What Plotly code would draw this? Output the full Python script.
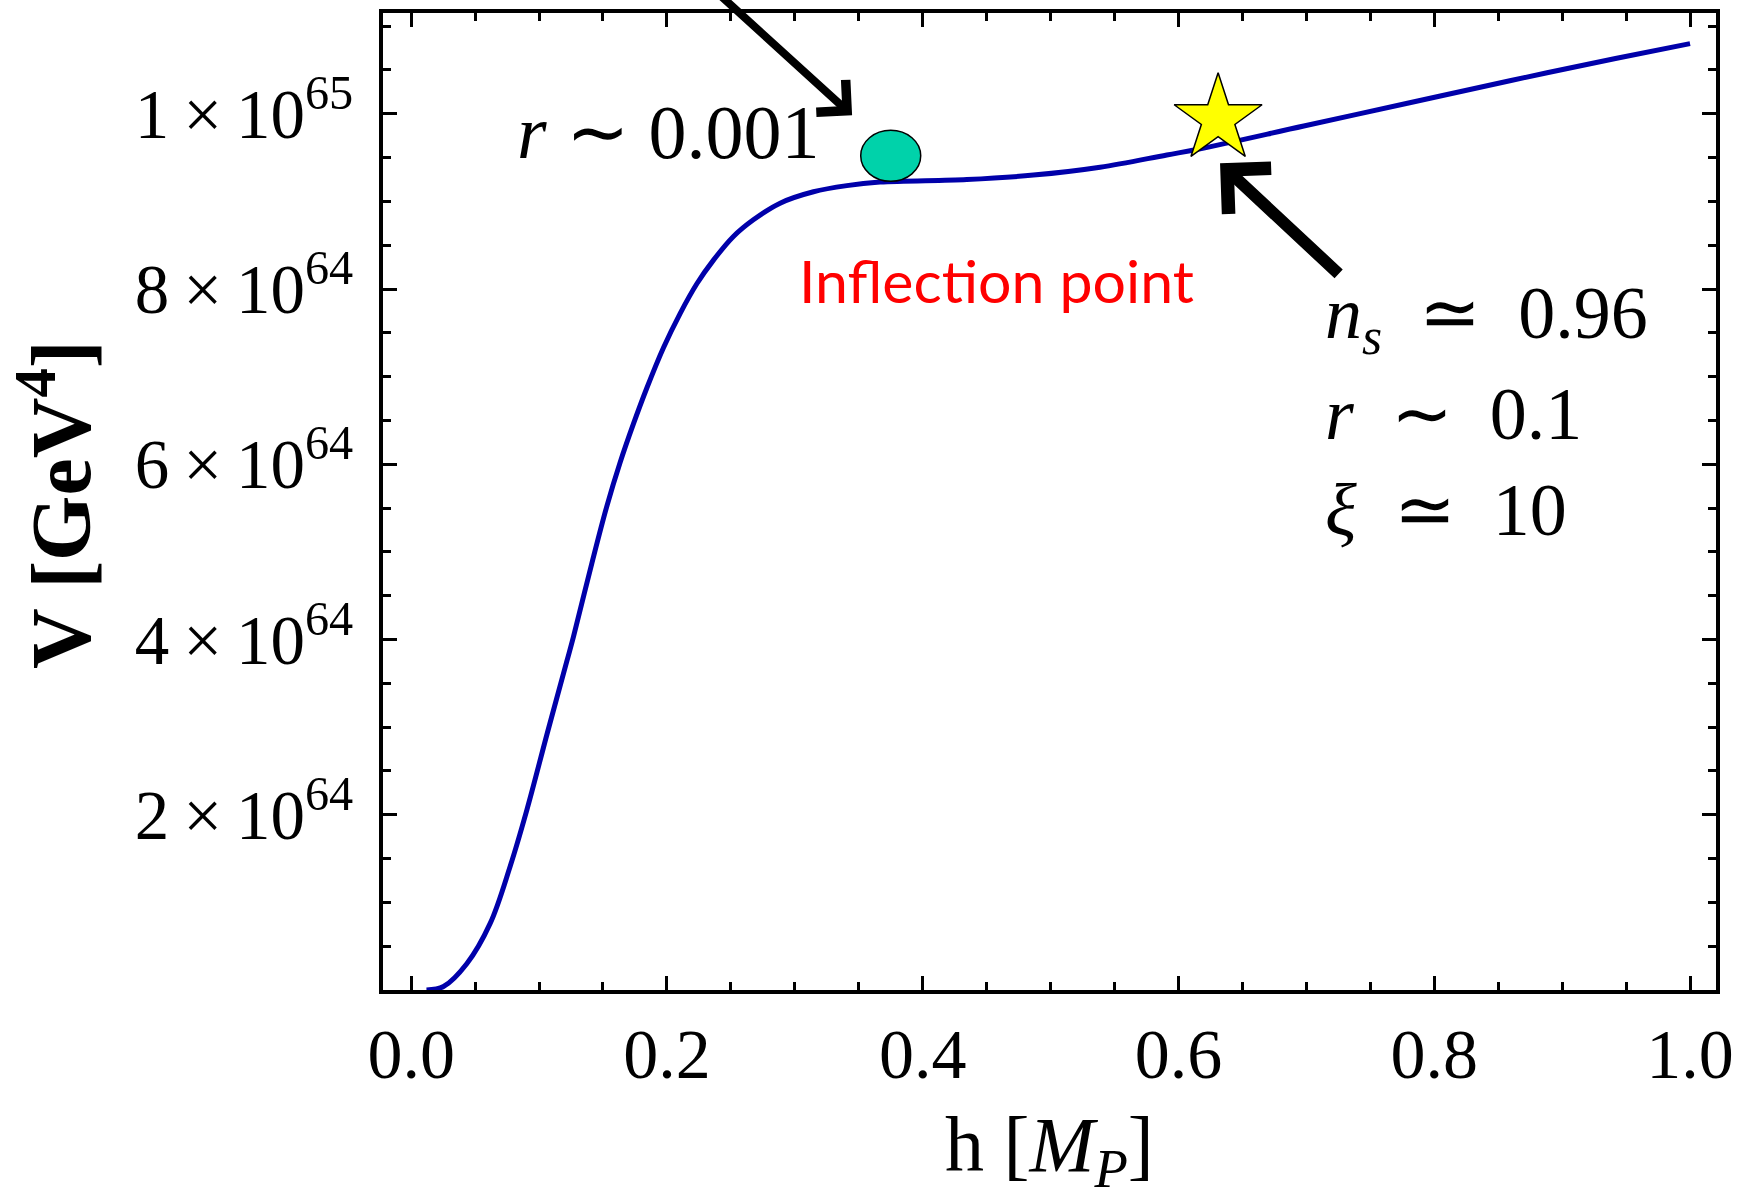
import numpy as np
import plotly.graph_objects as go

# ---- data (h in M_P, V in units of 1e64 GeV^4) ----
h_vals = [0.012, 0.0253, 0.0435, 0.0618, 0.0774, 0.0904, 0.1068, 0.1217, 0.1269,
          0.1413, 0.1530, 0.1634, 0.1738, 0.1843, 0.1973, 0.2103, 0.2234, 0.2364,
          0.2520, 0.2676, 0.2885, 0.3146, 0.3407, 0.3667, 0.4345, 0.4866, 0.5387,
          0.5909, 0.617, 0.698, 0.779, 0.860, 0.9417, 1.0]
V_vals = [0.0, 0.04, 0.30, 0.76, 1.41, 2.05, 2.95, 3.75, 4.03,
          4.87, 5.52, 6.02, 6.46, 6.87, 7.33, 7.72, 8.06, 8.33,
          8.60, 8.79, 8.98, 9.11, 9.18, 9.22, 9.25, 9.30, 9.39,
          9.53, 9.60, 9.86, 10.12, 10.38, 10.63, 10.80]

circle_pt = (0.375, 9.52)      # r ~ 0.001 marker
star_pt = (0.631, 9.94)        # n_s ~ 0.96 marker

y_tickvals = [2, 4, 6, 8, 10]
y_ticktext = ["2\u2009×\u200910<sup>64</sup>", "4\u2009×\u200910<sup>64</sup>",
              "6\u2009×\u200910<sup>64</sup>", "8\u2009×\u200910<sup>64</sup>",
              "1\u2009×\u200910<sup>65</sup>"]

x_title = "h [<i>M</i><sub><i>P</i></sub>]"
y_title = "<b>V [GeV<sup>4</sup>]</b>"

SCALE = 1e64
V = np.array(V_vals) * SCALE

serif = "Liberation Serif, Times New Roman, serif"

fig = go.Figure()
fig.add_trace(go.Scatter(x=h_vals, y=V, mode="lines",
                         line=dict(color="#0000AA", width=5, shape="spline", smoothing=1.0),
                         hoverinfo="skip", showlegend=False))
fig.add_trace(go.Scatter(x=[star_pt[0]], y=[star_pt[1] * SCALE], mode="markers",
                         marker=dict(symbol="star", size=66, color="#FFFF00",
                                     line=dict(color="black", width=1.5)),
                         showlegend=False, hoverinfo="skip"))

fig.add_shape(type="circle", xref="x", yref="y", xsizemode="pixel", ysizemode="pixel",
              xanchor=circle_pt[0], yanchor=circle_pt[1] * SCALE,
              x0=-30, x1=30, y0=-25.5, y1=25.5,
              fillcolor="#00D2AA", line=dict(color="black", width=1.5))

# arrows
fig.add_annotation(x=0.3448, y=9.983 * SCALE, ax=0.229, ay=11.52 * SCALE,
                   xref="x", yref="y", axref="x", ayref="y", text="",
                   showarrow=True, arrowhead=4, arrowwidth=8, arrowsize=1.05,
                   arrowcolor="black")
fig.add_annotation(x=0.6325, y=9.435 * SCALE, ax=0.7264, ay=8.157 * SCALE,
                   xref="x", yref="y", axref="x", ayref="y", text="",
                   showarrow=True, arrowhead=4, arrowwidth=12, arrowsize=1.0,
                   arrowcolor="black")

# texts
fig.add_annotation(x=0.2013, y=9.79 * SCALE, xref="x", yref="y", showarrow=False,
                   text="<i>r</i> ∼ 0.001", font=dict(family=serif, size=76, color="black"),
                   xanchor="center", yanchor="middle")
fig.add_annotation(x=0.458, y=8.094 * SCALE, xref="x", yref="y", showarrow=False,
                   text="Inflection point", font=dict(family="Lato", size=59, color="#FF0000"),
                   xanchor="center", yanchor="middle")
right_lines = ["<i>n</i><sub><i>s</i></sub>\u2002≃\u20020.96",
               "<i>r</i>\u2002∼\u20020.1",
               "<i>ξ</i>\u2002≃\u200210"]
right_y = [7.667, 6.571, 5.476]
for t, yy in zip(right_lines, right_y):
    fig.add_annotation(x=0.713, y=yy * SCALE, xref="x", yref="y", showarrow=False,
                       text=t, font=dict(family=serif, size=74, color="black"),
                       xanchor="left", yanchor="middle")

# axis titles
fig.add_annotation(x=0.5, y=0, xref="paper", yref="paper", xanchor="center", yanchor="top",
                   yshift=-109, showarrow=False, text=x_title,
                   font=dict(family=serif, size=78, color="black"))
fig.add_annotation(x=0, y=0.4964, xref="paper", yref="paper", xanchor="center", yanchor="middle",
                   xshift=-328, showarrow=False, text=y_title, textangle=-90,
                   font=dict(family=serif, size=84, color="black"))

fig.update_layout(
    width=1743, height=1200,
    margin=dict(l=383, r=27, t=13, b=210),
    paper_bgcolor="white", plot_bgcolor="white",
    showlegend=False,
)
fig.update_xaxes(
    range=[-0.022, 1.0203], tick0=0, dtick=0.2, tickformat=".1f",
    ticks="inside", ticklen=14, tickwidth=3, tickcolor="black",
    showline=True, linewidth=4, linecolor="black", mirror="allticks",
    showgrid=False, zeroline=False, automargin=False,
    tickfont=dict(family=serif, size=70, color="black"), ticklabelstandoff=0,
    minor=dict(tick0=0, dtick=0.05, ticks="inside", ticklen=8, tickwidth=2.5,
               tickcolor="black", showgrid=False),
)
fig.update_yaxes(
    range=[0, 11.15 * SCALE], tickmode="array", tickvals=[v * SCALE for v in y_tickvals],
    ticktext=y_ticktext,
    ticks="inside", ticklen=14, tickwidth=3, tickcolor="black",
    showline=True, linewidth=4, linecolor="black", mirror="allticks",
    showgrid=False, zeroline=False, automargin=False,
    tickfont=dict(family=serif, size=69, color="black"), ticklabelstandoff=12,
    minor=dict(tickmode="linear", tick0=0, dtick=0.5 * SCALE, ticks="inside", ticklen=8,
               tickwidth=2.5, tickcolor="black", showgrid=False),
)

fig.write_html("out.html", config={"displayModeBar": False},
               post_script="document.body.style.margin='0';document.body.style.overflow='hidden';")
